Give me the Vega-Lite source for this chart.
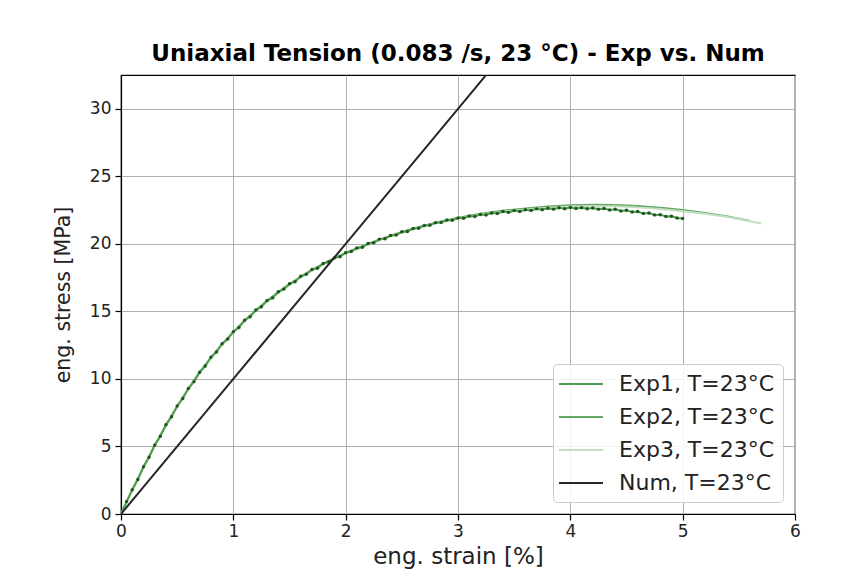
{
  "$schema": "https://vega.github.io/schema/vega-lite/v6.json",
  "autosize": {"type": "none"},
  "width": 674,
  "height": 439,
  "padding": {"left": 121, "top": 75, "right": 72, "bottom": 67},
  "background": "white",
  "title": {
    "text": "Uniaxial Tension (0.083 /s, 23 °C) - Exp vs. Num",
    "font": "DejaVu Sans",
    "fontSize": 23,
    "fontWeight": "bold",
    "color": "black",
    "anchor": "middle",
    "offset": 9
  },
  "datasets": {
    "exp1": [
      {"series": "Exp1, T=23°C", "strain": 0.00, "stress": 0.00},
      {"series": "Exp1, T=23°C", "strain": 0.05, "stress": 0.92},
      {"series": "Exp1, T=23°C", "strain": 0.10, "stress": 1.80},
      {"series": "Exp1, T=23°C", "strain": 0.15, "stress": 2.55},
      {"series": "Exp1, T=23°C", "strain": 0.20, "stress": 3.50},
      {"series": "Exp1, T=23°C", "strain": 0.25, "stress": 4.20},
      {"series": "Exp1, T=23°C", "strain": 0.30, "stress": 5.10},
      {"series": "Exp1, T=23°C", "strain": 0.35, "stress": 5.75},
      {"series": "Exp1, T=23°C", "strain": 0.40, "stress": 6.60},
      {"series": "Exp1, T=23°C", "strain": 0.45, "stress": 7.20},
      {"series": "Exp1, T=23°C", "strain": 0.50, "stress": 8.00},
      {"series": "Exp1, T=23°C", "strain": 0.55, "stress": 8.55},
      {"series": "Exp1, T=23°C", "strain": 0.60, "stress": 9.30},
      {"series": "Exp1, T=23°C", "strain": 0.65, "stress": 9.80},
      {"series": "Exp1, T=23°C", "strain": 0.70, "stress": 10.50},
      {"series": "Exp1, T=23°C", "strain": 0.75, "stress": 10.95},
      {"series": "Exp1, T=23°C", "strain": 0.80, "stress": 11.60},
      {"series": "Exp1, T=23°C", "strain": 0.85, "stress": 12.00},
      {"series": "Exp1, T=23°C", "strain": 0.90, "stress": 12.60},
      {"series": "Exp1, T=23°C", "strain": 0.95, "stress": 12.95},
      {"series": "Exp1, T=23°C", "strain": 1.00, "stress": 13.50},
      {"series": "Exp1, T=23°C", "strain": 1.05, "stress": 13.80},
      {"series": "Exp1, T=23°C", "strain": 1.10, "stress": 14.35},
      {"series": "Exp1, T=23°C", "strain": 1.15, "stress": 14.60},
      {"series": "Exp1, T=23°C", "strain": 1.20, "stress": 15.10},
      {"series": "Exp1, T=23°C", "strain": 1.25, "stress": 15.35},
      {"series": "Exp1, T=23°C", "strain": 1.30, "stress": 15.80},
      {"series": "Exp1, T=23°C", "strain": 1.35, "stress": 16.00},
      {"series": "Exp1, T=23°C", "strain": 1.40, "stress": 16.45},
      {"series": "Exp1, T=23°C", "strain": 1.45, "stress": 16.65},
      {"series": "Exp1, T=23°C", "strain": 1.50, "stress": 17.05},
      {"series": "Exp1, T=23°C", "strain": 1.55, "stress": 17.20},
      {"series": "Exp1, T=23°C", "strain": 1.60, "stress": 17.60},
      {"series": "Exp1, T=23°C", "strain": 1.65, "stress": 17.75},
      {"series": "Exp1, T=23°C", "strain": 1.70, "stress": 18.10},
      {"series": "Exp1, T=23°C", "strain": 1.75, "stress": 18.20},
      {"series": "Exp1, T=23°C", "strain": 1.80, "stress": 18.55},
      {"series": "Exp1, T=23°C", "strain": 1.85, "stress": 18.65},
      {"series": "Exp1, T=23°C", "strain": 1.90, "stress": 18.97},
      {"series": "Exp1, T=23°C", "strain": 1.95, "stress": 19.05},
      {"series": "Exp1, T=23°C", "strain": 2.00, "stress": 19.35},
      {"series": "Exp1, T=23°C", "strain": 2.05, "stress": 19.43},
      {"series": "Exp1, T=23°C", "strain": 2.10, "stress": 19.70},
      {"series": "Exp1, T=23°C", "strain": 2.15, "stress": 19.75},
      {"series": "Exp1, T=23°C", "strain": 2.20, "stress": 20.03},
      {"series": "Exp1, T=23°C", "strain": 2.25, "stress": 20.08},
      {"series": "Exp1, T=23°C", "strain": 2.30, "stress": 20.35},
      {"series": "Exp1, T=23°C", "strain": 2.35, "stress": 20.38},
      {"series": "Exp1, T=23°C", "strain": 2.40, "stress": 20.62},
      {"series": "Exp1, T=23°C", "strain": 2.45, "stress": 20.65},
      {"series": "Exp1, T=23°C", "strain": 2.50, "stress": 20.89},
      {"series": "Exp1, T=23°C", "strain": 2.55, "stress": 20.92},
      {"series": "Exp1, T=23°C", "strain": 2.60, "stress": 21.14},
      {"series": "Exp1, T=23°C", "strain": 2.65, "stress": 21.15},
      {"series": "Exp1, T=23°C", "strain": 2.70, "stress": 21.36},
      {"series": "Exp1, T=23°C", "strain": 2.75, "stress": 21.38},
      {"series": "Exp1, T=23°C", "strain": 2.80, "stress": 21.57},
      {"series": "Exp1, T=23°C", "strain": 2.85, "stress": 21.58},
      {"series": "Exp1, T=23°C", "strain": 2.90, "stress": 21.76},
      {"series": "Exp1, T=23°C", "strain": 2.95, "stress": 21.75},
      {"series": "Exp1, T=23°C", "strain": 3.00, "stress": 21.92},
      {"series": "Exp1, T=23°C", "strain": 3.05, "stress": 21.90},
      {"series": "Exp1, T=23°C", "strain": 3.10, "stress": 22.06},
      {"series": "Exp1, T=23°C", "strain": 3.15, "stress": 22.03},
      {"series": "Exp1, T=23°C", "strain": 3.20, "stress": 22.18},
      {"series": "Exp1, T=23°C", "strain": 3.25, "stress": 22.14},
      {"series": "Exp1, T=23°C", "strain": 3.30, "stress": 22.29},
      {"series": "Exp1, T=23°C", "strain": 3.35, "stress": 22.24},
      {"series": "Exp1, T=23°C", "strain": 3.40, "stress": 22.39},
      {"series": "Exp1, T=23°C", "strain": 3.45, "stress": 22.33},
      {"series": "Exp1, T=23°C", "strain": 3.50, "stress": 22.46},
      {"series": "Exp1, T=23°C", "strain": 3.55, "stress": 22.40},
      {"series": "Exp1, T=23°C", "strain": 3.60, "stress": 22.53},
      {"series": "Exp1, T=23°C", "strain": 3.65, "stress": 22.47},
      {"series": "Exp1, T=23°C", "strain": 3.70, "stress": 22.59},
      {"series": "Exp1, T=23°C", "strain": 3.75, "stress": 22.52},
      {"series": "Exp1, T=23°C", "strain": 3.80, "stress": 22.64},
      {"series": "Exp1, T=23°C", "strain": 3.85, "stress": 22.57},
      {"series": "Exp1, T=23°C", "strain": 3.90, "stress": 22.67},
      {"series": "Exp1, T=23°C", "strain": 3.95, "stress": 22.60},
      {"series": "Exp1, T=23°C", "strain": 4.00, "stress": 22.69},
      {"series": "Exp1, T=23°C", "strain": 4.05, "stress": 22.61},
      {"series": "Exp1, T=23°C", "strain": 4.10, "stress": 22.68},
      {"series": "Exp1, T=23°C", "strain": 4.15, "stress": 22.60},
      {"series": "Exp1, T=23°C", "strain": 4.20, "stress": 22.66},
      {"series": "Exp1, T=23°C", "strain": 4.25, "stress": 22.56},
      {"series": "Exp1, T=23°C", "strain": 4.30, "stress": 22.62},
      {"series": "Exp1, T=23°C", "strain": 4.35, "stress": 22.50},
      {"series": "Exp1, T=23°C", "strain": 4.40, "stress": 22.56},
      {"series": "Exp1, T=23°C", "strain": 4.45, "stress": 22.43},
      {"series": "Exp1, T=23°C", "strain": 4.50, "stress": 22.48},
      {"series": "Exp1, T=23°C", "strain": 4.55, "stress": 22.35},
      {"series": "Exp1, T=23°C", "strain": 4.60, "stress": 22.39},
      {"series": "Exp1, T=23°C", "strain": 4.65, "stress": 22.25},
      {"series": "Exp1, T=23°C", "strain": 4.70, "stress": 22.28},
      {"series": "Exp1, T=23°C", "strain": 4.75, "stress": 22.14},
      {"series": "Exp1, T=23°C", "strain": 4.80, "stress": 22.16},
      {"series": "Exp1, T=23°C", "strain": 4.85, "stress": 22.03},
      {"series": "Exp1, T=23°C", "strain": 4.90, "stress": 22.04},
      {"series": "Exp1, T=23°C", "strain": 4.95, "stress": 21.92},
      {"series": "Exp1, T=23°C", "strain": 5.00, "stress": 21.88}
    ],
    "others": [
      {"series": "Exp2, T=23°C", "strain": 0.0, "stress": 0.0},
      {"series": "Exp2, T=23°C", "strain": 0.1, "stress": 1.78},
      {"series": "Exp2, T=23°C", "strain": 0.2, "stress": 3.48},
      {"series": "Exp2, T=23°C", "strain": 0.3, "stress": 5.08},
      {"series": "Exp2, T=23°C", "strain": 0.4, "stress": 6.58},
      {"series": "Exp2, T=23°C", "strain": 0.5, "stress": 7.98},
      {"series": "Exp2, T=23°C", "strain": 0.6, "stress": 9.28},
      {"series": "Exp2, T=23°C", "strain": 0.7, "stress": 10.48},
      {"series": "Exp2, T=23°C", "strain": 0.8, "stress": 11.58},
      {"series": "Exp2, T=23°C", "strain": 0.9, "stress": 12.58},
      {"series": "Exp2, T=23°C", "strain": 1.0, "stress": 13.48},
      {"series": "Exp2, T=23°C", "strain": 1.1, "stress": 14.33},
      {"series": "Exp2, T=23°C", "strain": 1.2, "stress": 15.08},
      {"series": "Exp2, T=23°C", "strain": 1.3, "stress": 15.78},
      {"series": "Exp2, T=23°C", "strain": 1.4, "stress": 16.43},
      {"series": "Exp2, T=23°C", "strain": 1.5, "stress": 17.03},
      {"series": "Exp2, T=23°C", "strain": 1.6, "stress": 17.58},
      {"series": "Exp2, T=23°C", "strain": 1.7, "stress": 18.08},
      {"series": "Exp2, T=23°C", "strain": 1.8, "stress": 18.53},
      {"series": "Exp2, T=23°C", "strain": 1.9, "stress": 18.95},
      {"series": "Exp2, T=23°C", "strain": 2.0, "stress": 19.33},
      {"series": "Exp2, T=23°C", "strain": 2.2, "stress": 20.01},
      {"series": "Exp2, T=23°C", "strain": 2.4, "stress": 20.61},
      {"series": "Exp2, T=23°C", "strain": 2.6, "stress": 21.13},
      {"series": "Exp2, T=23°C", "strain": 2.8, "stress": 21.57},
      {"series": "Exp2, T=23°C", "strain": 3.0, "stress": 21.93},
      {"series": "Exp2, T=23°C", "strain": 3.2, "stress": 22.22},
      {"series": "Exp2, T=23°C", "strain": 3.4, "stress": 22.45},
      {"series": "Exp2, T=23°C", "strain": 3.6, "stress": 22.62},
      {"series": "Exp2, T=23°C", "strain": 3.8, "stress": 22.76},
      {"series": "Exp2, T=23°C", "strain": 4.0, "stress": 22.85},
      {"series": "Exp2, T=23°C", "strain": 4.2, "stress": 22.90},
      {"series": "Exp2, T=23°C", "strain": 4.4, "stress": 22.88},
      {"series": "Exp2, T=23°C", "strain": 4.6, "stress": 22.80},
      {"series": "Exp2, T=23°C", "strain": 4.8, "stress": 22.68},
      {"series": "Exp2, T=23°C", "strain": 5.0, "stress": 22.50},
      {"series": "Exp2, T=23°C", "strain": 5.2, "stress": 22.28},
      {"series": "Exp2, T=23°C", "strain": 5.4, "stress": 22.02},
      {"series": "Exp2, T=23°C", "strain": 5.6, "stress": 21.70},
      {"series": "Exp3, T=23°C", "strain": 0.0, "stress": 0.0},
      {"series": "Exp3, T=23°C", "strain": 0.1, "stress": 1.72},
      {"series": "Exp3, T=23°C", "strain": 0.2, "stress": 3.42},
      {"series": "Exp3, T=23°C", "strain": 0.3, "stress": 5.02},
      {"series": "Exp3, T=23°C", "strain": 0.4, "stress": 6.52},
      {"series": "Exp3, T=23°C", "strain": 0.5, "stress": 7.92},
      {"series": "Exp3, T=23°C", "strain": 0.6, "stress": 9.22},
      {"series": "Exp3, T=23°C", "strain": 0.7, "stress": 10.42},
      {"series": "Exp3, T=23°C", "strain": 0.8, "stress": 11.52},
      {"series": "Exp3, T=23°C", "strain": 0.9, "stress": 12.52},
      {"series": "Exp3, T=23°C", "strain": 1.0, "stress": 13.42},
      {"series": "Exp3, T=23°C", "strain": 1.1, "stress": 14.27},
      {"series": "Exp3, T=23°C", "strain": 1.2, "stress": 15.02},
      {"series": "Exp3, T=23°C", "strain": 1.3, "stress": 15.72},
      {"series": "Exp3, T=23°C", "strain": 1.4, "stress": 16.37},
      {"series": "Exp3, T=23°C", "strain": 1.5, "stress": 16.97},
      {"series": "Exp3, T=23°C", "strain": 1.6, "stress": 17.52},
      {"series": "Exp3, T=23°C", "strain": 1.7, "stress": 18.02},
      {"series": "Exp3, T=23°C", "strain": 1.8, "stress": 18.47},
      {"series": "Exp3, T=23°C", "strain": 1.9, "stress": 18.89},
      {"series": "Exp3, T=23°C", "strain": 2.0, "stress": 19.27},
      {"series": "Exp3, T=23°C", "strain": 2.2, "stress": 19.95},
      {"series": "Exp3, T=23°C", "strain": 2.4, "stress": 20.55},
      {"series": "Exp3, T=23°C", "strain": 2.6, "stress": 21.07},
      {"series": "Exp3, T=23°C", "strain": 2.8, "stress": 21.51},
      {"series": "Exp3, T=23°C", "strain": 3.0, "stress": 21.87},
      {"series": "Exp3, T=23°C", "strain": 3.2, "stress": 22.15},
      {"series": "Exp3, T=23°C", "strain": 3.4, "stress": 22.38},
      {"series": "Exp3, T=23°C", "strain": 3.6, "stress": 22.55},
      {"series": "Exp3, T=23°C", "strain": 3.8, "stress": 22.68},
      {"series": "Exp3, T=23°C", "strain": 4.0, "stress": 22.76},
      {"series": "Exp3, T=23°C", "strain": 4.2, "stress": 22.80},
      {"series": "Exp3, T=23°C", "strain": 4.4, "stress": 22.78},
      {"series": "Exp3, T=23°C", "strain": 4.6, "stress": 22.70},
      {"series": "Exp3, T=23°C", "strain": 4.8, "stress": 22.58},
      {"series": "Exp3, T=23°C", "strain": 5.0, "stress": 22.42},
      {"series": "Exp3, T=23°C", "strain": 5.2, "stress": 22.22},
      {"series": "Exp3, T=23°C", "strain": 5.4, "stress": 21.98},
      {"series": "Exp3, T=23°C", "strain": 5.6, "stress": 21.68},
      {"series": "Exp3, T=23°C", "strain": 5.7, "stress": 21.50}
    ],
    "num": [
      {"series": "Num, T=23°C", "strain": 0.0, "stress": 0.0},
      {"series": "Num, T=23°C", "strain": 1.0, "stress": 10.0},
      {"series": "Num, T=23°C", "strain": 2.0, "stress": 20.0},
      {"series": "Num, T=23°C", "strain": 3.0, "stress": 30.0},
      {"series": "Num, T=23°C", "strain": 3.5, "stress": 35.0}
    ]
  },
  "encoding": {
    "x": {
      "field": "strain",
      "type": "quantitative",
      "scale": {"domain": [0, 6], "nice": false, "zero": false},
      "axis": {"title": "eng. strain [%]", "values": [0, 1, 2, 3, 4, 5, 6], "format": "d"}
    },
    "y": {
      "field": "stress",
      "type": "quantitative",
      "scale": {"domain": [0, 32.5], "nice": false, "zero": false},
      "axis": {"title": "eng. stress [MPa]", "values": [0, 5, 10, 15, 20, 25, 30], "format": "d"}
    },
    "color": {
      "field": "series",
      "type": "nominal",
      "scale": {
        "domain": ["Exp1, T=23°C", "Exp2, T=23°C", "Exp3, T=23°C", "Num, T=23°C"],
        "range": ["#4f9d4f", "#62a862", "#c4dec4", "#262626"]
      },
      "legend": {"title": null}
    }
  },
  "layer": [
    {
      "data": {"name": "others"},
      "mark": {"type": "line", "strokeWidth": 2, "clip": true}
    },
    {
      "data": {"name": "exp1"},
      "mark": {"type": "line", "strokeWidth": 2, "clip": true}
    },
    {
      "data": {"name": "exp1"},
      "mark": {"type": "point", "filled": true, "size": 12, "opacity": 0.9, "clip": true},
      "encoding": {"color": {"value": "#174d17"}}
    },
    {
      "data": {"name": "num"},
      "mark": {"type": "line", "strokeWidth": 2, "clip": true}
    }
  ],
  "config": {
    "font": "DejaVu Sans",
    "view": {"stroke": "black", "strokeWidth": 1.2},
    "axis": {
      "grid": true,
      "gridColor": "#b0b0b0",
      "gridWidth": 1,
      "domainColor": "black",
      "domainWidth": 1.2,
      "tickColor": "black",
      "tickSize": 6,
      "tickWidth": 1.2,
      "labelFont": "DejaVu Sans",
      "labelFontSize": 17,
      "labelColor": "#222222",
      "labelFlush": false,
      "titleFont": "DejaVu Sans",
      "titleFontWeight": "normal",
      "titleColor": "#222222"
    },
    "axisX": {"labelPadding": 3, "titlePadding": 6, "titleFontSize": 23},
    "axisY": {"labelPadding": 4, "titlePadding": 16, "titleFontSize": 20.5},
    "legend": {
      "orient": "bottom-right",
      "offset": 12,
      "fillColor": "rgba(255,255,255,0.85)",
      "strokeColor": "#cccccc",
      "cornerRadius": 4,
      "padding": 8,
      "symbolType": "M-2,0H2",
      "symbolSize": 484,
      "symbolOffset": 8,
      "symbolStrokeWidth": 2,
      "labelFont": "DejaVu Sans",
      "labelFontSize": 22,
      "labelColor": "#222222",
      "labelOffset": 26,
      "rowPadding": 10
    }
  }
}
